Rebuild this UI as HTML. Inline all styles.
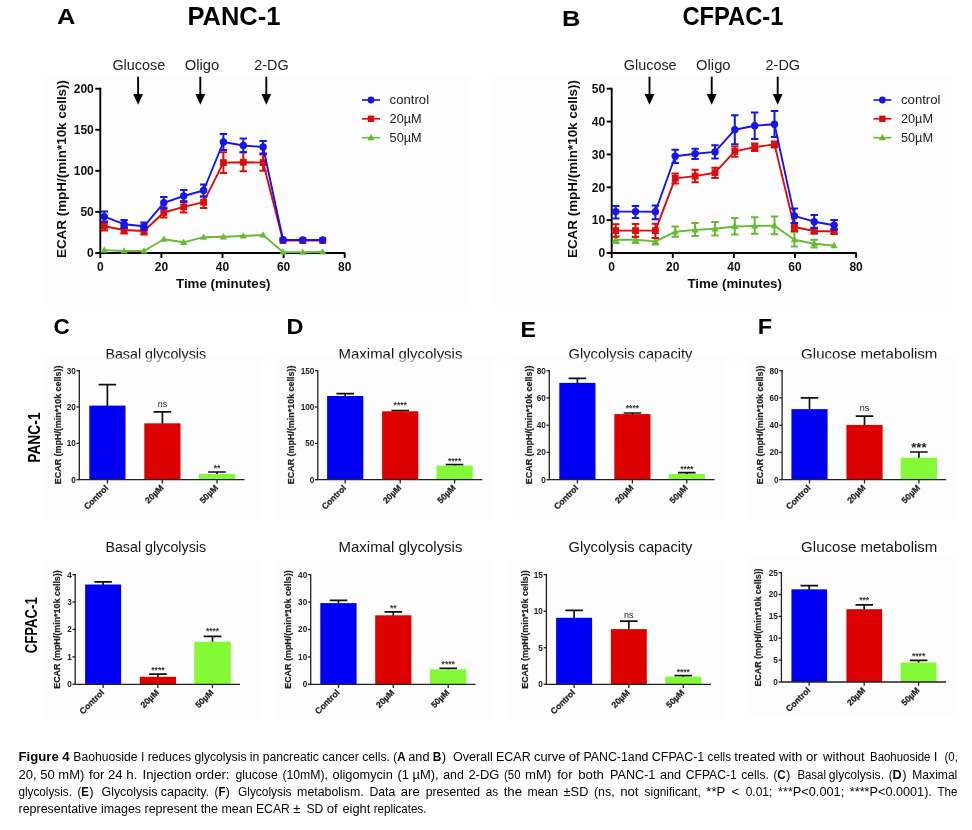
<!DOCTYPE html>
<html><head><meta charset="utf-8"><title>Figure 4</title>
<style>html,body{margin:0;padding:0;background:#fff}svg{display:block}text{font-family:"Liberation Sans",sans-serif}</style>
</head><body>
<svg width="972" height="830" viewBox="0 0 972 830">
<rect width="972" height="830" fill="#fff"/>
<defs><filter id="b0" x="-5%" y="-5%" width="110%" height="110%"><feGaussianBlur stdDeviation="0.3"/></filter><filter id="b1" x="-5%" y="-5%" width="110%" height="110%"><feGaussianBlur stdDeviation="0.35"/></filter><filter id="b2" x="-5%" y="-5%" width="110%" height="110%"><feGaussianBlur stdDeviation="0.5"/></filter></defs>
<g filter="url(#b0)">
<text x="56.9" y="24.2" font-size="22" text-anchor="start" fill="#000" font-weight="bold" textLength="18.4" lengthAdjust="spacingAndGlyphs" >A</text>
<text x="561.9" y="25.6" font-size="22" text-anchor="start" fill="#000" font-weight="bold" textLength="18.4" lengthAdjust="spacingAndGlyphs" >B</text>
<text x="187.4" y="24.8" font-size="25" text-anchor="start" fill="#000" font-weight="bold" textLength="93.0" lengthAdjust="spacingAndGlyphs" >PANC-1</text>
<text x="682.4" y="24.8" font-size="25" text-anchor="start" fill="#000" font-weight="bold" textLength="101.0" lengthAdjust="spacingAndGlyphs" >CFPAC-1</text>
<text x="53.6" y="334.4" font-size="22" text-anchor="start" fill="#000" font-weight="bold" textLength="16.3" lengthAdjust="spacingAndGlyphs" >C</text>
<text x="286.4" y="334.3" font-size="22" text-anchor="start" fill="#000" font-weight="bold" textLength="17.0" lengthAdjust="spacingAndGlyphs" >D</text>
<text x="520.6" y="336.7" font-size="22" text-anchor="start" fill="#000" font-weight="bold" textLength="15.5" lengthAdjust="spacingAndGlyphs" >E</text>
<text x="757.7" y="334.3" font-size="22" text-anchor="start" fill="#000" font-weight="bold" textLength="14.4" lengthAdjust="spacingAndGlyphs" >F</text>
</g>
<g filter="url(#b1)">
<rect x="45" y="76" width="425" height="229" fill="#fdfdfd"/>
<text x="112.4" y="69.6" font-size="15" text-anchor="start" fill="#222" textLength="52.8" lengthAdjust="spacingAndGlyphs" >Glucose</text>
<path d="M138.1 76.7V96" stroke="#000" stroke-width="1.9" fill="none"/>
<path d="M133.2 94.0H143.0L138.1 104.8Z" fill="#000"/>
<text x="184.7" y="69.6" font-size="15" text-anchor="start" fill="#222" textLength="34.5" lengthAdjust="spacingAndGlyphs" >Oligo</text>
<path d="M200.3 76.7V96" stroke="#000" stroke-width="1.9" fill="none"/>
<path d="M195.4 94.0H205.2L200.3 104.8Z" fill="#000"/>
<text x="254.2" y="69.6" font-size="15" text-anchor="start" fill="#222" textLength="34.4" lengthAdjust="spacingAndGlyphs" >2-DG</text>
<path d="M266.3 76.7V96" stroke="#000" stroke-width="1.9" fill="none"/>
<path d="M261.4 94.0H271.2L266.3 104.8Z" fill="#000"/>
<path d="M100.3 87.8V253.0H345.2" stroke="#000" stroke-width="1.9" fill="none"/>
<path d="M95.3 253.0H100.3" stroke="#000" stroke-width="1.9"/>
<text x="93.8" y="257.3" font-size="12" text-anchor="end" fill="#111" font-weight="bold" >0</text>
<path d="M95.3 211.9H100.3" stroke="#000" stroke-width="1.9"/>
<text x="93.8" y="216.2" font-size="12" text-anchor="end" fill="#111" font-weight="bold" >50</text>
<path d="M95.3 170.8H100.3" stroke="#000" stroke-width="1.9"/>
<text x="93.8" y="175.2" font-size="12" text-anchor="end" fill="#111" font-weight="bold" >100</text>
<path d="M95.3 129.8H100.3" stroke="#000" stroke-width="1.9"/>
<text x="93.8" y="134.1" font-size="12" text-anchor="end" fill="#111" font-weight="bold" >150</text>
<path d="M95.3 88.7H100.3" stroke="#000" stroke-width="1.9"/>
<text x="93.8" y="93.0" font-size="12" text-anchor="end" fill="#111" font-weight="bold" >200</text>
<path d="M100.3 253.0V258.0" stroke="#000" stroke-width="1.9"/>
<text x="100.3" y="271.2" font-size="12" text-anchor="middle" fill="#111" font-weight="bold" >0</text>
<path d="M161.4 253.0V258.0" stroke="#000" stroke-width="1.9"/>
<text x="161.4" y="271.2" font-size="12" text-anchor="middle" fill="#111" font-weight="bold" >20</text>
<path d="M222.5 253.0V258.0" stroke="#000" stroke-width="1.9"/>
<text x="222.5" y="271.2" font-size="12" text-anchor="middle" fill="#111" font-weight="bold" >40</text>
<path d="M283.6 253.0V258.0" stroke="#000" stroke-width="1.9"/>
<text x="283.6" y="271.2" font-size="12" text-anchor="middle" fill="#111" font-weight="bold" >60</text>
<path d="M344.7 253.0V258.0" stroke="#000" stroke-width="1.9"/>
<text x="344.7" y="271.2" font-size="12" text-anchor="middle" fill="#111" font-weight="bold" >80</text>
<polyline points="104.3,250.1 124.1,251.0 144.0,251.0 163.8,239.2 183.7,242.3 203.6,237.2 223.4,236.8 243.3,236.0 263.1,235.0 283.0,252.0 302.8,252.2 322.7,252.0" fill="none" stroke="#66bb33" stroke-width="1.9" stroke-linejoin="round"/>
<path d="M104.3 246.3L107.9 252.7H100.7Z" fill="#66bb33"/>
<path d="M124.1 247.2L127.7 253.6H120.5Z" fill="#66bb33"/>
<path d="M144.0 247.2L147.6 253.6H140.4Z" fill="#66bb33"/>
<path d="M163.8 235.4L167.4 241.8H160.2Z" fill="#66bb33"/>
<path d="M183.7 238.5L187.3 244.9H180.1Z" fill="#66bb33"/>
<path d="M203.6 233.4L207.2 239.8H200.0Z" fill="#66bb33"/>
<path d="M223.4 233.0L227.0 239.4H219.8Z" fill="#66bb33"/>
<path d="M243.3 232.2L246.9 238.6H239.7Z" fill="#66bb33"/>
<path d="M263.1 231.2L266.7 237.6H259.5Z" fill="#66bb33"/>
<path d="M283.0 248.2L286.6 254.6H279.4Z" fill="#66bb33"/>
<path d="M302.8 248.4L306.4 254.8H299.2Z" fill="#66bb33"/>
<path d="M322.7 248.2L326.3 254.6H319.1Z" fill="#66bb33"/>
<polyline points="104.3,226.3 124.1,230.0 144.0,231.0 163.8,212.5 183.7,206.9 203.6,202.2 223.4,162.6 243.3,162.2 263.1,162.6 283.0,240.6 302.8,240.6 322.7,240.6" fill="none" stroke="#dc0a0a" stroke-width="1.9" stroke-linejoin="round"/>
<path d="M104.3 222.0V230.5M100.6 222.0h7.4M100.6 230.5h7.4" stroke="#dc0a0a" stroke-width="2.0" fill="none"/>
<rect x="100.9" y="222.9" width="6.8" height="6.8" fill="#dc0a0a"/>
<path d="M124.1 226.5V233.5M120.4 226.5h7.4M120.4 233.5h7.4" stroke="#dc0a0a" stroke-width="2.0" fill="none"/>
<rect x="120.7" y="226.6" width="6.8" height="6.8" fill="#dc0a0a"/>
<path d="M144.0 227.5V234.5M140.3 227.5h7.4M140.3 234.5h7.4" stroke="#dc0a0a" stroke-width="2.0" fill="none"/>
<rect x="140.6" y="227.6" width="6.8" height="6.8" fill="#dc0a0a"/>
<path d="M163.8 207.5V217.5M160.1 207.5h7.4M160.1 217.5h7.4" stroke="#dc0a0a" stroke-width="2.0" fill="none"/>
<rect x="160.4" y="209.1" width="6.8" height="6.8" fill="#dc0a0a"/>
<path d="M183.7 201.0V212.5M180.0 201.0h7.4M180.0 212.5h7.4" stroke="#dc0a0a" stroke-width="2.0" fill="none"/>
<rect x="180.3" y="203.5" width="6.8" height="6.8" fill="#dc0a0a"/>
<path d="M203.6 196.5V208.0M199.9 196.5h7.4M199.9 208.0h7.4" stroke="#dc0a0a" stroke-width="2.0" fill="none"/>
<rect x="200.2" y="198.8" width="6.8" height="6.8" fill="#dc0a0a"/>
<path d="M223.4 152.3V173.0M219.7 152.3h7.4M219.7 173.0h7.4" stroke="#dc0a0a" stroke-width="2.0" fill="none"/>
<rect x="220.0" y="159.2" width="6.8" height="6.8" fill="#dc0a0a"/>
<path d="M243.3 152.3V171.3M239.6 152.3h7.4M239.6 171.3h7.4" stroke="#dc0a0a" stroke-width="2.0" fill="none"/>
<rect x="239.9" y="158.8" width="6.8" height="6.8" fill="#dc0a0a"/>
<path d="M263.1 154.6V170.7M259.4 154.6h7.4M259.4 170.7h7.4" stroke="#dc0a0a" stroke-width="2.0" fill="none"/>
<rect x="259.7" y="159.2" width="6.8" height="6.8" fill="#dc0a0a"/>
<rect x="279.6" y="237.2" width="6.8" height="6.8" fill="#dc0a0a"/>
<rect x="299.4" y="237.2" width="6.8" height="6.8" fill="#dc0a0a"/>
<rect x="319.3" y="237.2" width="6.8" height="6.8" fill="#dc0a0a"/>
<polyline points="104.3,216.6 124.1,224.2 144.0,226.3 163.8,202.8 183.7,196.0 203.6,190.5 223.4,142.0 243.3,145.5 263.1,147.0 283.0,239.8 302.8,240.0 322.7,240.0" fill="none" stroke="#1414e6" stroke-width="1.9" stroke-linejoin="round"/>
<path d="M104.3 211.5V221.5M100.6 211.5h7.4M100.6 221.5h7.4" stroke="#1414e6" stroke-width="2.0" fill="none"/>
<circle cx="104.3" cy="216.6" r="3.7" fill="#1414e6"/>
<path d="M124.1 220.0V228.0M120.4 220.0h7.4M120.4 228.0h7.4" stroke="#1414e6" stroke-width="2.0" fill="none"/>
<circle cx="124.1" cy="224.2" r="3.7" fill="#1414e6"/>
<path d="M144.0 222.5V230.0M140.3 222.5h7.4M140.3 230.0h7.4" stroke="#1414e6" stroke-width="2.0" fill="none"/>
<circle cx="144.0" cy="226.3" r="3.7" fill="#1414e6"/>
<path d="M163.8 197.0V208.5M160.1 197.0h7.4M160.1 208.5h7.4" stroke="#1414e6" stroke-width="2.0" fill="none"/>
<circle cx="163.8" cy="202.8" r="3.7" fill="#1414e6"/>
<path d="M183.7 190.0V202.0M180.0 190.0h7.4M180.0 202.0h7.4" stroke="#1414e6" stroke-width="2.0" fill="none"/>
<circle cx="183.7" cy="196.0" r="3.7" fill="#1414e6"/>
<path d="M203.6 184.5V196.5M199.9 184.5h7.4M199.9 196.5h7.4" stroke="#1414e6" stroke-width="2.0" fill="none"/>
<circle cx="203.6" cy="190.5" r="3.7" fill="#1414e6"/>
<path d="M223.4 134.0V150.0M219.7 134.0h7.4M219.7 150.0h7.4" stroke="#1414e6" stroke-width="2.0" fill="none"/>
<circle cx="223.4" cy="142.0" r="3.7" fill="#1414e6"/>
<path d="M243.3 138.6V152.3M239.6 138.6h7.4M239.6 152.3h7.4" stroke="#1414e6" stroke-width="2.0" fill="none"/>
<circle cx="243.3" cy="145.5" r="3.7" fill="#1414e6"/>
<path d="M263.1 141.0V153.5M259.4 141.0h7.4M259.4 153.5h7.4" stroke="#1414e6" stroke-width="2.0" fill="none"/>
<circle cx="263.1" cy="147.0" r="3.7" fill="#1414e6"/>
<circle cx="283.0" cy="239.8" r="3.7" fill="#1414e6"/>
<circle cx="302.8" cy="240.0" r="3.7" fill="#1414e6"/>
<circle cx="322.7" cy="240.0" r="3.7" fill="#1414e6"/>
<text x="176.0" y="288.3" font-size="13.3" text-anchor="start" fill="#111" font-weight="bold" textLength="94.5" lengthAdjust="spacingAndGlyphs" >Time (minutes)</text>
<text x="65.6" y="258.0" font-size="13.3" text-anchor="start" fill="#111" font-weight="bold" textLength="178.0" lengthAdjust="spacingAndGlyphs" transform="rotate(-90 65.6 258.0)" >ECAR (mpH/(min*10k cells))</text>
<path d="M362.0 100.0h18" stroke="#1414e6" stroke-width="1.6"/>
<circle cx="371.0" cy="100.0" r="3.4" fill="#1414e6"/>
<text x="389.6" y="104.4" font-size="13" text-anchor="start" fill="#222" textLength="39.5" lengthAdjust="spacingAndGlyphs" >control</text>
<path d="M362.0 118.8h18" stroke="#dc0a0a" stroke-width="1.6"/>
<rect x="367.8" y="115.6" width="6.4" height="6.4" fill="#dc0a0a"/>
<text x="389.6" y="123.2" font-size="13" text-anchor="start" fill="#222" textLength="32.0" lengthAdjust="spacingAndGlyphs" >20µM</text>
<path d="M362.0 137.7h18" stroke="#66bb33" stroke-width="1.6"/>
<path d="M371.0 133.9L374.6 140.3H367.4Z" fill="#66bb33"/>
<text x="389.6" y="142.1" font-size="13" text-anchor="start" fill="#222" textLength="32.0" lengthAdjust="spacingAndGlyphs" >50µM</text>
<rect x="492" y="76" width="459" height="229" fill="#fdfdfd"/>
<text x="623.8" y="69.6" font-size="15" text-anchor="start" fill="#222" textLength="52.8" lengthAdjust="spacingAndGlyphs" >Glucose</text>
<path d="M649.5 76.7V96" stroke="#000" stroke-width="1.9" fill="none"/>
<path d="M644.6 94.0H654.4L649.5 104.8Z" fill="#000"/>
<text x="696.1" y="69.6" font-size="15" text-anchor="start" fill="#222" textLength="34.5" lengthAdjust="spacingAndGlyphs" >Oligo</text>
<path d="M711.7 76.7V96" stroke="#000" stroke-width="1.9" fill="none"/>
<path d="M706.8 94.0H716.6L711.7 104.8Z" fill="#000"/>
<text x="765.6" y="69.6" font-size="15" text-anchor="start" fill="#222" textLength="34.4" lengthAdjust="spacingAndGlyphs" >2-DG</text>
<path d="M777.7 76.7V96" stroke="#000" stroke-width="1.9" fill="none"/>
<path d="M772.8 94.0H782.6L777.7 104.8Z" fill="#000"/>
<path d="M611.7 87.8V253.0H856.6" stroke="#000" stroke-width="1.9" fill="none"/>
<path d="M606.7 253.0H611.7" stroke="#000" stroke-width="1.9"/>
<text x="605.2" y="257.3" font-size="12" text-anchor="end" fill="#111" font-weight="bold" >0</text>
<path d="M606.7 220.1H611.7" stroke="#000" stroke-width="1.9"/>
<text x="605.2" y="224.4" font-size="12" text-anchor="end" fill="#111" font-weight="bold" >10</text>
<path d="M606.7 187.3H611.7" stroke="#000" stroke-width="1.9"/>
<text x="605.2" y="191.6" font-size="12" text-anchor="end" fill="#111" font-weight="bold" >20</text>
<path d="M606.7 154.4H611.7" stroke="#000" stroke-width="1.9"/>
<text x="605.2" y="158.7" font-size="12" text-anchor="end" fill="#111" font-weight="bold" >30</text>
<path d="M606.7 121.6H611.7" stroke="#000" stroke-width="1.9"/>
<text x="605.2" y="125.9" font-size="12" text-anchor="end" fill="#111" font-weight="bold" >40</text>
<path d="M606.7 88.7H611.7" stroke="#000" stroke-width="1.9"/>
<text x="605.2" y="93.0" font-size="12" text-anchor="end" fill="#111" font-weight="bold" >50</text>
<path d="M611.7 253.0V258.0" stroke="#000" stroke-width="1.9"/>
<text x="611.7" y="271.2" font-size="12" text-anchor="middle" fill="#111" font-weight="bold" >0</text>
<path d="M672.8 253.0V258.0" stroke="#000" stroke-width="1.9"/>
<text x="672.8" y="271.2" font-size="12" text-anchor="middle" fill="#111" font-weight="bold" >20</text>
<path d="M733.9 253.0V258.0" stroke="#000" stroke-width="1.9"/>
<text x="733.9" y="271.2" font-size="12" text-anchor="middle" fill="#111" font-weight="bold" >40</text>
<path d="M795.0 253.0V258.0" stroke="#000" stroke-width="1.9"/>
<text x="795.0" y="271.2" font-size="12" text-anchor="middle" fill="#111" font-weight="bold" >60</text>
<path d="M856.1 253.0V258.0" stroke="#000" stroke-width="1.9"/>
<text x="856.1" y="271.2" font-size="12" text-anchor="middle" fill="#111" font-weight="bold" >80</text>
<polyline points="615.7,239.8 635.5,239.8 655.4,241.4 675.2,231.8 695.1,229.9 715.0,228.8 734.8,226.5 754.7,226.0 774.5,225.7 794.4,239.7 814.2,243.7 834.1,245.6" fill="none" stroke="#66bb33" stroke-width="1.9" stroke-linejoin="round"/>
<path d="M615.7 236.5V243.0M612.0 236.5h7.4M612.0 243.0h7.4" stroke="#66bb33" stroke-width="2.0" fill="none"/>
<path d="M615.7 236.0L619.3 242.4H612.1Z" fill="#66bb33"/>
<path d="M635.5 236.5V243.0M631.8 236.5h7.4M631.8 243.0h7.4" stroke="#66bb33" stroke-width="2.0" fill="none"/>
<path d="M635.5 236.0L639.1 242.4H631.9Z" fill="#66bb33"/>
<path d="M655.4 238.0V244.5M651.7 238.0h7.4M651.7 244.5h7.4" stroke="#66bb33" stroke-width="2.0" fill="none"/>
<path d="M655.4 237.6L659.0 244.0H651.8Z" fill="#66bb33"/>
<path d="M675.2 226.5V236.8M671.5 226.5h7.4M671.5 236.8h7.4" stroke="#66bb33" stroke-width="2.0" fill="none"/>
<path d="M675.2 228.0L678.8 234.4H671.6Z" fill="#66bb33"/>
<path d="M695.1 223.0V236.0M691.4 223.0h7.4M691.4 236.0h7.4" stroke="#66bb33" stroke-width="2.0" fill="none"/>
<path d="M695.1 226.1L698.7 232.5H691.5Z" fill="#66bb33"/>
<path d="M715.0 222.0V235.6M711.3 222.0h7.4M711.3 235.6h7.4" stroke="#66bb33" stroke-width="2.0" fill="none"/>
<path d="M715.0 225.0L718.6 231.4H711.4Z" fill="#66bb33"/>
<path d="M734.8 218.0V234.5M731.1 218.0h7.4M731.1 234.5h7.4" stroke="#66bb33" stroke-width="2.0" fill="none"/>
<path d="M734.8 222.7L738.4 229.1H731.2Z" fill="#66bb33"/>
<path d="M754.7 217.3V233.8M751.0 217.3h7.4M751.0 233.8h7.4" stroke="#66bb33" stroke-width="2.0" fill="none"/>
<path d="M754.7 222.2L758.3 228.6H751.1Z" fill="#66bb33"/>
<path d="M774.5 216.4V234.2M770.8 216.4h7.4M770.8 234.2h7.4" stroke="#66bb33" stroke-width="2.0" fill="none"/>
<path d="M774.5 221.9L778.1 228.3H770.9Z" fill="#66bb33"/>
<path d="M794.4 232.3V246.4M790.7 232.3h7.4M790.7 246.4h7.4" stroke="#66bb33" stroke-width="2.0" fill="none"/>
<path d="M794.4 235.9L798.0 242.3H790.8Z" fill="#66bb33"/>
<path d="M814.2 239.7V247.4M810.5 239.7h7.4M810.5 247.4h7.4" stroke="#66bb33" stroke-width="2.0" fill="none"/>
<path d="M814.2 239.9L817.8 246.3H810.6Z" fill="#66bb33"/>
<path d="M834.1 241.8L837.7 248.2H830.5Z" fill="#66bb33"/>
<polyline points="615.7,230.6 635.5,230.6 655.4,230.6 675.2,178.4 695.1,176.1 715.0,172.7 734.8,151.4 754.7,147.1 774.5,144.4 794.4,227.0 814.2,231.0 834.1,231.5" fill="none" stroke="#dc0a0a" stroke-width="1.9" stroke-linejoin="round"/>
<path d="M615.7 224.2V236.8M612.0 224.2h7.4M612.0 236.8h7.4" stroke="#dc0a0a" stroke-width="2.0" fill="none"/>
<rect x="612.3" y="227.2" width="6.8" height="6.8" fill="#dc0a0a"/>
<path d="M635.5 224.0V237.0M631.8 224.0h7.4M631.8 237.0h7.4" stroke="#dc0a0a" stroke-width="2.0" fill="none"/>
<rect x="632.1" y="227.2" width="6.8" height="6.8" fill="#dc0a0a"/>
<path d="M655.4 223.7V237.9M651.7 223.7h7.4M651.7 237.9h7.4" stroke="#dc0a0a" stroke-width="2.0" fill="none"/>
<rect x="652.0" y="227.2" width="6.8" height="6.8" fill="#dc0a0a"/>
<path d="M675.2 173.4V183.5M671.5 173.4h7.4M671.5 183.5h7.4" stroke="#dc0a0a" stroke-width="2.0" fill="none"/>
<rect x="671.8" y="175.0" width="6.8" height="6.8" fill="#dc0a0a"/>
<path d="M695.1 169.7V182.3M691.4 169.7h7.4M691.4 182.3h7.4" stroke="#dc0a0a" stroke-width="2.0" fill="none"/>
<rect x="691.7" y="172.7" width="6.8" height="6.8" fill="#dc0a0a"/>
<path d="M715.0 167.7V178.0M711.3 167.7h7.4M711.3 178.0h7.4" stroke="#dc0a0a" stroke-width="2.0" fill="none"/>
<rect x="711.6" y="169.3" width="6.8" height="6.8" fill="#dc0a0a"/>
<path d="M734.8 146.4V156.7M731.1 146.4h7.4M731.1 156.7h7.4" stroke="#dc0a0a" stroke-width="2.0" fill="none"/>
<rect x="731.4" y="148.0" width="6.8" height="6.8" fill="#dc0a0a"/>
<path d="M754.7 143.6V151.0M751.0 143.6h7.4M751.0 151.0h7.4" stroke="#dc0a0a" stroke-width="2.0" fill="none"/>
<rect x="751.3" y="143.7" width="6.8" height="6.8" fill="#dc0a0a"/>
<path d="M774.5 141.5V147.5M770.8 141.5h7.4M770.8 147.5h7.4" stroke="#dc0a0a" stroke-width="2.0" fill="none"/>
<rect x="771.1" y="141.0" width="6.8" height="6.8" fill="#dc0a0a"/>
<path d="M794.4 223.0V231.0M790.7 223.0h7.4M790.7 231.0h7.4" stroke="#dc0a0a" stroke-width="2.0" fill="none"/>
<rect x="791.0" y="223.6" width="6.8" height="6.8" fill="#dc0a0a"/>
<path d="M814.2 228.5V233.5M810.5 228.5h7.4M810.5 233.5h7.4" stroke="#dc0a0a" stroke-width="2.0" fill="none"/>
<rect x="810.8" y="227.6" width="6.8" height="6.8" fill="#dc0a0a"/>
<path d="M834.1 229.0V234.0M830.4 229.0h7.4M830.4 234.0h7.4" stroke="#dc0a0a" stroke-width="2.0" fill="none"/>
<rect x="830.7" y="228.1" width="6.8" height="6.8" fill="#dc0a0a"/>
<polyline points="615.7,211.6 635.5,211.6 655.4,211.8 675.2,156.2 695.1,153.7 715.0,151.9 734.8,129.7 754.7,125.7 774.5,124.2 794.4,215.9 814.2,221.7 834.1,225.2" fill="none" stroke="#1414e6" stroke-width="1.9" stroke-linejoin="round"/>
<path d="M615.7 205.9V218.5M612.0 205.9h7.4M612.0 218.5h7.4" stroke="#1414e6" stroke-width="2.0" fill="none"/>
<circle cx="615.7" cy="211.6" r="3.7" fill="#1414e6"/>
<path d="M635.5 205.9V218.0M631.8 205.9h7.4M631.8 218.0h7.4" stroke="#1414e6" stroke-width="2.0" fill="none"/>
<circle cx="635.5" cy="211.6" r="3.7" fill="#1414e6"/>
<path d="M655.4 205.4V219.2M651.7 205.4h7.4M651.7 219.2h7.4" stroke="#1414e6" stroke-width="2.0" fill="none"/>
<circle cx="655.4" cy="211.8" r="3.7" fill="#1414e6"/>
<path d="M675.2 149.8V162.9M671.5 149.8h7.4M671.5 162.9h7.4" stroke="#1414e6" stroke-width="2.0" fill="none"/>
<circle cx="675.2" cy="156.2" r="3.7" fill="#1414e6"/>
<path d="M695.1 148.7V159.0M691.4 148.7h7.4M691.4 159.0h7.4" stroke="#1414e6" stroke-width="2.0" fill="none"/>
<circle cx="695.1" cy="153.7" r="3.7" fill="#1414e6"/>
<path d="M715.0 145.2V158.5M711.3 145.2h7.4M711.3 158.5h7.4" stroke="#1414e6" stroke-width="2.0" fill="none"/>
<circle cx="715.0" cy="151.9" r="3.7" fill="#1414e6"/>
<path d="M734.8 115.3V144.3M731.1 115.3h7.4M731.1 144.3h7.4" stroke="#1414e6" stroke-width="2.0" fill="none"/>
<circle cx="734.8" cy="129.7" r="3.7" fill="#1414e6"/>
<path d="M754.7 112.5V138.9M751.0 112.5h7.4M751.0 138.9h7.4" stroke="#1414e6" stroke-width="2.0" fill="none"/>
<circle cx="754.7" cy="125.7" r="3.7" fill="#1414e6"/>
<path d="M774.5 111.0V137.0M770.8 111.0h7.4M770.8 137.0h7.4" stroke="#1414e6" stroke-width="2.0" fill="none"/>
<circle cx="774.5" cy="124.2" r="3.7" fill="#1414e6"/>
<path d="M794.4 208.5V223.0M790.7 208.5h7.4M790.7 223.0h7.4" stroke="#1414e6" stroke-width="2.0" fill="none"/>
<circle cx="794.4" cy="215.9" r="3.7" fill="#1414e6"/>
<path d="M814.2 215.0V227.8M810.5 215.0h7.4M810.5 227.8h7.4" stroke="#1414e6" stroke-width="2.0" fill="none"/>
<circle cx="814.2" cy="221.7" r="3.7" fill="#1414e6"/>
<path d="M834.1 220.0V229.7M830.4 220.0h7.4M830.4 229.7h7.4" stroke="#1414e6" stroke-width="2.0" fill="none"/>
<circle cx="834.1" cy="225.2" r="3.7" fill="#1414e6"/>
<text x="687.4" y="288.3" font-size="13.3" text-anchor="start" fill="#111" font-weight="bold" textLength="94.5" lengthAdjust="spacingAndGlyphs" >Time (minutes)</text>
<text x="577.0" y="258.0" font-size="13.3" text-anchor="start" fill="#111" font-weight="bold" textLength="178.0" lengthAdjust="spacingAndGlyphs" transform="rotate(-90 577.0 258.0)" >ECAR (mpH/(min*10k cells))</text>
<path d="M873.4 100.0h18" stroke="#1414e6" stroke-width="1.6"/>
<circle cx="882.4" cy="100.0" r="3.4" fill="#1414e6"/>
<text x="901.0" y="104.4" font-size="13" text-anchor="start" fill="#222" textLength="39.5" lengthAdjust="spacingAndGlyphs" >control</text>
<path d="M873.4 118.8h18" stroke="#dc0a0a" stroke-width="1.6"/>
<rect x="879.2" y="115.6" width="6.4" height="6.4" fill="#dc0a0a"/>
<text x="901.0" y="123.2" font-size="13" text-anchor="start" fill="#222" textLength="32.0" lengthAdjust="spacingAndGlyphs" >20µM</text>
<path d="M873.4 137.7h18" stroke="#66bb33" stroke-width="1.6"/>
<path d="M882.4 133.9L886.0 140.3H878.8Z" fill="#66bb33"/>
<text x="901.0" y="142.1" font-size="13" text-anchor="start" fill="#222" textLength="32.0" lengthAdjust="spacingAndGlyphs" >50µM</text>
</g>
<g filter="url(#b0)">
<text x="39.6" y="462.8" font-size="15.6" text-anchor="start" fill="#000" font-weight="bold" textLength="50.4" lengthAdjust="spacingAndGlyphs" transform="rotate(-90 39.6 462.8)" >PANC-1</text>
<text x="37.2" y="653.2" font-size="15.6" text-anchor="start" fill="#000" font-weight="bold" textLength="56.0" lengthAdjust="spacingAndGlyphs" transform="rotate(-90 37.2 653.2)" >CFPAC-1</text>
</g>
<g filter="url(#b2)">
<rect x="46" y="358" width="214" height="162" fill="#fdfdfd"/>
<path d="M107.4 406.6V384.7M98.6 384.7h17.6" stroke="#111" stroke-width="1.7" fill="none"/>
<rect x="89.3" y="405.6" width="36.2" height="74.1" fill="#0606f4"/>
<path d="M107.4 479.7v3.8" stroke="#222" stroke-width="1.3"/>
<text x="109.0" y="488.5" font-size="8.6" text-anchor="end" fill="#222" font-weight="bold" textLength="30.5" lengthAdjust="spacingAndGlyphs" transform="rotate(-45 109.0 488.5)" stroke="#222" stroke-width="0.25">Control</text>
<path d="M162.4 424.3V411.8M153.6 411.8h17.6" stroke="#111" stroke-width="1.7" fill="none"/>
<rect x="144.3" y="423.3" width="36.2" height="56.4" fill="#dc0202"/>
<text x="162.4" y="407.2" font-size="9" text-anchor="middle" fill="#222" >ns</text>
<path d="M162.4 479.7v3.8" stroke="#222" stroke-width="1.3"/>
<text x="164.0" y="488.5" font-size="8.6" text-anchor="end" fill="#222" font-weight="bold" textLength="21.8" lengthAdjust="spacingAndGlyphs" transform="rotate(-45 164.0 488.5)" stroke="#222" stroke-width="0.25">20µM</text>
<path d="M217.0 475.0V472.0M208.2 472.0h17.6" stroke="#111" stroke-width="1.7" fill="none"/>
<rect x="198.9" y="474.0" width="36.2" height="5.7" fill="#84f936"/>
<text x="217.0" y="471.4" font-size="8.5" text-anchor="middle" fill="#333" font-weight="bold" >**</text>
<path d="M217.0 479.7v3.8" stroke="#222" stroke-width="1.3"/>
<text x="218.6" y="488.5" font-size="8.6" text-anchor="end" fill="#222" font-weight="bold" textLength="21.8" lengthAdjust="spacingAndGlyphs" transform="rotate(-45 218.6 488.5)" stroke="#222" stroke-width="0.25">50µM</text>
<path d="M79.3 370.1V479.7H244.6" stroke="#222" stroke-width="1.3" fill="none"/>
<path d="M76.5 479.7H79.3" stroke="#222" stroke-width="1.3"/>
<text x="75.8" y="482.6" font-size="8.2" text-anchor="end" fill="#222" font-weight="bold" >0</text>
<path d="M76.5 443.4H79.3" stroke="#222" stroke-width="1.3"/>
<text x="75.8" y="446.3" font-size="8.2" text-anchor="end" fill="#222" font-weight="bold" >10</text>
<path d="M76.5 407.0H79.3" stroke="#222" stroke-width="1.3"/>
<text x="75.8" y="409.9" font-size="8.2" text-anchor="end" fill="#222" font-weight="bold" >20</text>
<path d="M76.5 370.7H79.3" stroke="#222" stroke-width="1.3"/>
<text x="75.8" y="373.6" font-size="8.2" text-anchor="end" fill="#222" font-weight="bold" >30</text>
<text x="60.8" y="484.2" font-size="8.2" text-anchor="start" fill="#222" font-weight="bold" textLength="118.6" lengthAdjust="spacingAndGlyphs" transform="rotate(-90 60.8 484.2)" stroke="#222" stroke-width="0.2">ECAR (mpH/(min*10k cells))</text>
<rect x="278" y="358" width="214" height="162" fill="#fdfdfd"/>
<path d="M345.2 397.0V393.6M336.4 393.6h17.6" stroke="#111" stroke-width="1.7" fill="none"/>
<rect x="327.1" y="396.0" width="36.2" height="83.7" fill="#0606f4"/>
<path d="M345.2 479.7v3.8" stroke="#222" stroke-width="1.3"/>
<text x="346.8" y="488.5" font-size="8.6" text-anchor="end" fill="#222" font-weight="bold" textLength="30.5" lengthAdjust="spacingAndGlyphs" transform="rotate(-45 346.8 488.5)" stroke="#222" stroke-width="0.25">Control</text>
<path d="M400.2 412.3V410.6M391.4 410.6h17.6" stroke="#111" stroke-width="1.7" fill="none"/>
<rect x="382.1" y="411.3" width="36.2" height="68.4" fill="#dc0202"/>
<text x="400.2" y="407.9" font-size="8.5" text-anchor="middle" fill="#333" font-weight="bold" >****</text>
<path d="M400.2 479.7v3.8" stroke="#222" stroke-width="1.3"/>
<text x="401.8" y="488.5" font-size="8.6" text-anchor="end" fill="#222" font-weight="bold" textLength="21.8" lengthAdjust="spacingAndGlyphs" transform="rotate(-45 401.8 488.5)" stroke="#222" stroke-width="0.25">20µM</text>
<path d="M454.6 466.6V464.6M445.8 464.6h17.6" stroke="#111" stroke-width="1.7" fill="none"/>
<rect x="436.5" y="465.6" width="36.2" height="14.1" fill="#84f936"/>
<text x="454.6" y="464.4" font-size="8.5" text-anchor="middle" fill="#333" font-weight="bold" >****</text>
<path d="M454.6 479.7v3.8" stroke="#222" stroke-width="1.3"/>
<text x="456.2" y="488.5" font-size="8.6" text-anchor="end" fill="#222" font-weight="bold" textLength="21.8" lengthAdjust="spacingAndGlyphs" transform="rotate(-45 456.2 488.5)" stroke="#222" stroke-width="0.25">50µM</text>
<path d="M317.8 370.1V479.7H482.4" stroke="#222" stroke-width="1.3" fill="none"/>
<path d="M315.0 479.7H317.8" stroke="#222" stroke-width="1.3"/>
<text x="314.3" y="482.6" font-size="8.2" text-anchor="end" fill="#222" font-weight="bold" >0</text>
<path d="M315.0 443.4H317.8" stroke="#222" stroke-width="1.3"/>
<text x="314.3" y="446.3" font-size="8.2" text-anchor="end" fill="#222" font-weight="bold" >50</text>
<path d="M315.0 407.0H317.8" stroke="#222" stroke-width="1.3"/>
<text x="314.3" y="409.9" font-size="8.2" text-anchor="end" fill="#222" font-weight="bold" >100</text>
<path d="M315.0 370.7H317.8" stroke="#222" stroke-width="1.3"/>
<text x="314.3" y="373.6" font-size="8.2" text-anchor="end" fill="#222" font-weight="bold" >150</text>
<text x="294.0" y="484.2" font-size="8.2" text-anchor="start" fill="#222" font-weight="bold" textLength="118.6" lengthAdjust="spacingAndGlyphs" transform="rotate(-90 294.0 484.2)" stroke="#222" stroke-width="0.2">ECAR (mpH/(min*10k cells))</text>
<rect x="512" y="358" width="214" height="162" fill="#fdfdfd"/>
<path d="M577.4 383.9V378.4M568.6 378.4h17.6" stroke="#111" stroke-width="1.7" fill="none"/>
<rect x="559.3" y="382.9" width="36.2" height="96.8" fill="#0606f4"/>
<path d="M577.4 479.7v3.8" stroke="#222" stroke-width="1.3"/>
<text x="579.0" y="488.5" font-size="8.6" text-anchor="end" fill="#222" font-weight="bold" textLength="30.5" lengthAdjust="spacingAndGlyphs" transform="rotate(-45 579.0 488.5)" stroke="#222" stroke-width="0.25">Control</text>
<path d="M632.4 415.1V413.0M623.6 413.0h17.6" stroke="#111" stroke-width="1.7" fill="none"/>
<rect x="614.3" y="414.1" width="36.2" height="65.6" fill="#dc0202"/>
<text x="632.4" y="411.3" font-size="8.5" text-anchor="middle" fill="#333" font-weight="bold" >****</text>
<path d="M632.4 479.7v3.8" stroke="#222" stroke-width="1.3"/>
<text x="634.0" y="488.5" font-size="8.6" text-anchor="end" fill="#222" font-weight="bold" textLength="21.8" lengthAdjust="spacingAndGlyphs" transform="rotate(-45 634.0 488.5)" stroke="#222" stroke-width="0.25">20µM</text>
<path d="M686.8 475.0V472.6M678.0 472.6h17.6" stroke="#111" stroke-width="1.7" fill="none"/>
<rect x="668.7" y="474.0" width="36.2" height="5.7" fill="#84f936"/>
<text x="686.8" y="471.9" font-size="8.5" text-anchor="middle" fill="#333" font-weight="bold" >****</text>
<path d="M686.8 479.7v3.8" stroke="#222" stroke-width="1.3"/>
<text x="688.4" y="488.5" font-size="8.6" text-anchor="end" fill="#222" font-weight="bold" textLength="21.8" lengthAdjust="spacingAndGlyphs" transform="rotate(-45 688.4 488.5)" stroke="#222" stroke-width="0.25">50µM</text>
<path d="M549.3 370.1V479.7H714.6" stroke="#222" stroke-width="1.3" fill="none"/>
<path d="M546.5 479.7H549.3" stroke="#222" stroke-width="1.3"/>
<text x="545.8" y="482.6" font-size="8.2" text-anchor="end" fill="#222" font-weight="bold" >0</text>
<path d="M546.5 452.4H549.3" stroke="#222" stroke-width="1.3"/>
<text x="545.8" y="455.3" font-size="8.2" text-anchor="end" fill="#222" font-weight="bold" >20</text>
<path d="M546.5 425.2H549.3" stroke="#222" stroke-width="1.3"/>
<text x="545.8" y="428.1" font-size="8.2" text-anchor="end" fill="#222" font-weight="bold" >40</text>
<path d="M546.5 397.9H549.3" stroke="#222" stroke-width="1.3"/>
<text x="545.8" y="400.8" font-size="8.2" text-anchor="end" fill="#222" font-weight="bold" >60</text>
<path d="M546.5 370.7H549.3" stroke="#222" stroke-width="1.3"/>
<text x="545.8" y="373.6" font-size="8.2" text-anchor="end" fill="#222" font-weight="bold" >80</text>
<text x="531.6" y="484.2" font-size="8.2" text-anchor="start" fill="#222" font-weight="bold" textLength="118.6" lengthAdjust="spacingAndGlyphs" transform="rotate(-90 531.6 484.2)" stroke="#222" stroke-width="0.2">ECAR (mpH/(min*10k cells))</text>
<rect x="748" y="358" width="208" height="162" fill="#fdfdfd"/>
<path d="M809.5 410.1V397.8M800.7 397.8h17.6" stroke="#111" stroke-width="1.7" fill="none"/>
<rect x="791.4" y="409.1" width="36.2" height="70.6" fill="#0606f4"/>
<path d="M809.5 479.7v3.8" stroke="#222" stroke-width="1.3"/>
<text x="811.1" y="488.5" font-size="8.6" text-anchor="end" fill="#222" font-weight="bold" textLength="30.5" lengthAdjust="spacingAndGlyphs" transform="rotate(-45 811.1 488.5)" stroke="#222" stroke-width="0.25">Control</text>
<path d="M864.5 425.9V416.2M855.7 416.2h17.6" stroke="#111" stroke-width="1.7" fill="none"/>
<rect x="846.4" y="424.9" width="36.2" height="54.8" fill="#dc0202"/>
<text x="864.5" y="411.3" font-size="9" text-anchor="middle" fill="#222" >ns</text>
<path d="M864.5 479.7v3.8" stroke="#222" stroke-width="1.3"/>
<text x="866.1" y="488.5" font-size="8.6" text-anchor="end" fill="#222" font-weight="bold" textLength="21.8" lengthAdjust="spacingAndGlyphs" transform="rotate(-45 866.1 488.5)" stroke="#222" stroke-width="0.25">20µM</text>
<path d="M918.9 458.7V452.0M910.1 452.0h17.6" stroke="#111" stroke-width="1.7" fill="none"/>
<rect x="900.8" y="457.7" width="36.2" height="22.0" fill="#84f936"/>
<text x="918.9" y="451.5" font-size="13" text-anchor="middle" fill="#222" font-weight="bold" >***</text>
<path d="M918.9 479.7v3.8" stroke="#222" stroke-width="1.3"/>
<text x="920.5" y="488.5" font-size="8.6" text-anchor="end" fill="#222" font-weight="bold" textLength="21.8" lengthAdjust="spacingAndGlyphs" transform="rotate(-45 920.5 488.5)" stroke="#222" stroke-width="0.25">50µM</text>
<path d="M782.1 370.1V479.7H946.1" stroke="#222" stroke-width="1.3" fill="none"/>
<path d="M779.3 479.7H782.1" stroke="#222" stroke-width="1.3"/>
<text x="778.6" y="482.6" font-size="8.2" text-anchor="end" fill="#222" font-weight="bold" >0</text>
<path d="M779.3 452.4H782.1" stroke="#222" stroke-width="1.3"/>
<text x="778.6" y="455.3" font-size="8.2" text-anchor="end" fill="#222" font-weight="bold" >20</text>
<path d="M779.3 425.2H782.1" stroke="#222" stroke-width="1.3"/>
<text x="778.6" y="428.1" font-size="8.2" text-anchor="end" fill="#222" font-weight="bold" >40</text>
<path d="M779.3 397.9H782.1" stroke="#222" stroke-width="1.3"/>
<text x="778.6" y="400.8" font-size="8.2" text-anchor="end" fill="#222" font-weight="bold" >60</text>
<path d="M779.3 370.7H782.1" stroke="#222" stroke-width="1.3"/>
<text x="778.6" y="373.6" font-size="8.2" text-anchor="end" fill="#222" font-weight="bold" >80</text>
<text x="763.4" y="484.2" font-size="8.2" text-anchor="start" fill="#222" font-weight="bold" textLength="118.6" lengthAdjust="spacingAndGlyphs" transform="rotate(-90 763.4 484.2)" stroke="#222" stroke-width="0.2">ECAR (mpH/(min*10k cells))</text>
<rect x="46" y="560" width="214" height="160" fill="#fdfdfd"/>
<path d="M103.1 585.5V581.8M94.3 581.8h17.6" stroke="#111" stroke-width="1.7" fill="none"/>
<rect x="85.1" y="584.5" width="36.0" height="99.8" fill="#0606f4"/>
<path d="M103.1 684.3v3.8" stroke="#222" stroke-width="1.3"/>
<text x="104.7" y="693.1" font-size="8.6" text-anchor="end" fill="#222" font-weight="bold" textLength="30.5" lengthAdjust="spacingAndGlyphs" transform="rotate(-45 104.7 693.1)" stroke="#222" stroke-width="0.25">Control</text>
<path d="M157.9 677.8V674.2M149.1 674.2h17.6" stroke="#111" stroke-width="1.7" fill="none"/>
<rect x="139.8" y="676.8" width="36.2" height="7.5" fill="#dc0202"/>
<text x="157.9" y="672.8" font-size="8.5" text-anchor="middle" fill="#333" font-weight="bold" >****</text>
<path d="M157.9 684.3v3.8" stroke="#222" stroke-width="1.3"/>
<text x="159.5" y="693.1" font-size="8.6" text-anchor="end" fill="#222" font-weight="bold" textLength="21.8" lengthAdjust="spacingAndGlyphs" transform="rotate(-45 159.5 693.1)" stroke="#222" stroke-width="0.25">20µM</text>
<path d="M212.5 642.7V636.4M203.7 636.4h17.6" stroke="#111" stroke-width="1.7" fill="none"/>
<rect x="194.3" y="641.7" width="36.4" height="42.6" fill="#84f936"/>
<text x="212.5" y="634.1" font-size="8.5" text-anchor="middle" fill="#333" font-weight="bold" >****</text>
<path d="M212.5 684.3v3.8" stroke="#222" stroke-width="1.3"/>
<text x="214.1" y="693.1" font-size="8.6" text-anchor="end" fill="#222" font-weight="bold" textLength="21.8" lengthAdjust="spacingAndGlyphs" transform="rotate(-45 214.1 693.1)" stroke="#222" stroke-width="0.25">50µM</text>
<path d="M75.2 574.0V684.3H240.0" stroke="#222" stroke-width="1.3" fill="none"/>
<path d="M72.4 684.3H75.2" stroke="#222" stroke-width="1.3"/>
<text x="71.7" y="687.2" font-size="8.2" text-anchor="end" fill="#222" font-weight="bold" >0</text>
<path d="M72.4 656.9H75.2" stroke="#222" stroke-width="1.3"/>
<text x="71.7" y="659.8" font-size="8.2" text-anchor="end" fill="#222" font-weight="bold" >1</text>
<path d="M72.4 629.5H75.2" stroke="#222" stroke-width="1.3"/>
<text x="71.7" y="632.4" font-size="8.2" text-anchor="end" fill="#222" font-weight="bold" >2</text>
<path d="M72.4 602.0H75.2" stroke="#222" stroke-width="1.3"/>
<text x="71.7" y="604.9" font-size="8.2" text-anchor="end" fill="#222" font-weight="bold" >3</text>
<path d="M72.4 574.6H75.2" stroke="#222" stroke-width="1.3"/>
<text x="71.7" y="577.5" font-size="8.2" text-anchor="end" fill="#222" font-weight="bold" >4</text>
<text x="60.3" y="688.8" font-size="8.2" text-anchor="start" fill="#222" font-weight="bold" textLength="118.6" lengthAdjust="spacingAndGlyphs" transform="rotate(-90 60.3 688.8)" stroke="#222" stroke-width="0.2">ECAR (mpH/(min*10k cells))</text>
<rect x="276" y="560" width="214" height="160" fill="#fdfdfd"/>
<path d="M338.5 604.1V600.4M329.7 600.4h17.6" stroke="#111" stroke-width="1.7" fill="none"/>
<rect x="320.3" y="603.1" width="36.3" height="81.2" fill="#0606f4"/>
<path d="M338.5 684.3v3.8" stroke="#222" stroke-width="1.3"/>
<text x="340.1" y="693.1" font-size="8.6" text-anchor="end" fill="#222" font-weight="bold" textLength="30.5" lengthAdjust="spacingAndGlyphs" transform="rotate(-45 340.1 693.1)" stroke="#222" stroke-width="0.25">Control</text>
<path d="M393.3 616.3V611.9M384.5 611.9h17.6" stroke="#111" stroke-width="1.7" fill="none"/>
<rect x="375.2" y="615.3" width="36.2" height="69.0" fill="#dc0202"/>
<text x="393.3" y="611.4" font-size="8.5" text-anchor="middle" fill="#333" font-weight="bold" >**</text>
<path d="M393.3 684.3v3.8" stroke="#222" stroke-width="1.3"/>
<text x="394.9" y="693.1" font-size="8.6" text-anchor="end" fill="#222" font-weight="bold" textLength="21.8" lengthAdjust="spacingAndGlyphs" transform="rotate(-45 394.9 693.1)" stroke="#222" stroke-width="0.25">20µM</text>
<path d="M448.2 670.3V668.3M439.4 668.3h17.6" stroke="#111" stroke-width="1.7" fill="none"/>
<rect x="430.0" y="669.3" width="36.4" height="15.0" fill="#84f936"/>
<text x="448.2" y="666.9" font-size="8.5" text-anchor="middle" fill="#333" font-weight="bold" >****</text>
<path d="M448.2 684.3v3.8" stroke="#222" stroke-width="1.3"/>
<text x="449.8" y="693.1" font-size="8.6" text-anchor="end" fill="#222" font-weight="bold" textLength="21.8" lengthAdjust="spacingAndGlyphs" transform="rotate(-45 449.8 693.1)" stroke="#222" stroke-width="0.25">50µM</text>
<path d="M310.7 574.0V684.3H475.5" stroke="#222" stroke-width="1.3" fill="none"/>
<path d="M307.9 684.3H310.7" stroke="#222" stroke-width="1.3"/>
<text x="307.2" y="687.2" font-size="8.2" text-anchor="end" fill="#222" font-weight="bold" >0</text>
<path d="M307.9 656.9H310.7" stroke="#222" stroke-width="1.3"/>
<text x="307.2" y="659.8" font-size="8.2" text-anchor="end" fill="#222" font-weight="bold" >10</text>
<path d="M307.9 629.5H310.7" stroke="#222" stroke-width="1.3"/>
<text x="307.2" y="632.4" font-size="8.2" text-anchor="end" fill="#222" font-weight="bold" >20</text>
<path d="M307.9 602.0H310.7" stroke="#222" stroke-width="1.3"/>
<text x="307.2" y="604.9" font-size="8.2" text-anchor="end" fill="#222" font-weight="bold" >30</text>
<path d="M307.9 574.6H310.7" stroke="#222" stroke-width="1.3"/>
<text x="307.2" y="577.5" font-size="8.2" text-anchor="end" fill="#222" font-weight="bold" >40</text>
<text x="291.5" y="688.8" font-size="8.2" text-anchor="start" fill="#222" font-weight="bold" textLength="118.6" lengthAdjust="spacingAndGlyphs" transform="rotate(-90 291.5 688.8)" stroke="#222" stroke-width="0.2">ECAR (mpH/(min*10k cells))</text>
<rect x="510" y="560" width="214" height="160" fill="#fdfdfd"/>
<path d="M574.1 618.8V610.4M565.3 610.4h17.6" stroke="#111" stroke-width="1.7" fill="none"/>
<rect x="556.1" y="617.8" width="36.0" height="66.5" fill="#0606f4"/>
<path d="M574.1 684.3v3.8" stroke="#222" stroke-width="1.3"/>
<text x="575.7" y="693.1" font-size="8.6" text-anchor="end" fill="#222" font-weight="bold" textLength="30.5" lengthAdjust="spacingAndGlyphs" transform="rotate(-45 575.7 693.1)" stroke="#222" stroke-width="0.25">Control</text>
<path d="M628.8 630.1V621.1M620.0 621.1h17.6" stroke="#111" stroke-width="1.7" fill="none"/>
<rect x="610.9" y="629.1" width="35.9" height="55.2" fill="#dc0202"/>
<text x="628.8" y="617.7" font-size="9" text-anchor="middle" fill="#222" >ns</text>
<path d="M628.8 684.3v3.8" stroke="#222" stroke-width="1.3"/>
<text x="630.4" y="693.1" font-size="8.6" text-anchor="end" fill="#222" font-weight="bold" textLength="21.8" lengthAdjust="spacingAndGlyphs" transform="rotate(-45 630.4 693.1)" stroke="#222" stroke-width="0.25">20µM</text>
<path d="M683.3 677.8V675.6M674.5 675.6h17.6" stroke="#111" stroke-width="1.7" fill="none"/>
<rect x="665.2" y="676.8" width="36.2" height="7.5" fill="#84f936"/>
<text x="683.3" y="675.1" font-size="8.5" text-anchor="middle" fill="#333" font-weight="bold" >****</text>
<path d="M683.3 684.3v3.8" stroke="#222" stroke-width="1.3"/>
<text x="684.9" y="693.1" font-size="8.6" text-anchor="end" fill="#222" font-weight="bold" textLength="21.8" lengthAdjust="spacingAndGlyphs" transform="rotate(-45 684.9 693.1)" stroke="#222" stroke-width="0.25">50µM</text>
<path d="M546.4 574.0V684.3H711.0" stroke="#222" stroke-width="1.3" fill="none"/>
<path d="M543.6 684.3H546.4" stroke="#222" stroke-width="1.3"/>
<text x="542.9" y="687.2" font-size="8.2" text-anchor="end" fill="#222" font-weight="bold" >0</text>
<path d="M543.6 647.7H546.4" stroke="#222" stroke-width="1.3"/>
<text x="542.9" y="650.6" font-size="8.2" text-anchor="end" fill="#222" font-weight="bold" >5</text>
<path d="M543.6 611.2H546.4" stroke="#222" stroke-width="1.3"/>
<text x="542.9" y="614.1" font-size="8.2" text-anchor="end" fill="#222" font-weight="bold" >10</text>
<path d="M543.6 574.6H546.4" stroke="#222" stroke-width="1.3"/>
<text x="542.9" y="577.5" font-size="8.2" text-anchor="end" fill="#222" font-weight="bold" >15</text>
<text x="527.9" y="688.8" font-size="8.2" text-anchor="start" fill="#222" font-weight="bold" textLength="118.6" lengthAdjust="spacingAndGlyphs" transform="rotate(-90 527.9 688.8)" stroke="#222" stroke-width="0.2">ECAR (mpH/(min*10k cells))</text>
<rect x="748" y="556" width="208" height="160" fill="#fdfdfd"/>
<path d="M809.2 590.3V585.7M800.5 585.7h17.6" stroke="#111" stroke-width="1.7" fill="none"/>
<rect x="791.4" y="589.3" width="35.7" height="92.7" fill="#0606f4"/>
<path d="M809.2 682.0v3.8" stroke="#222" stroke-width="1.3"/>
<text x="810.9" y="690.8" font-size="8.6" text-anchor="end" fill="#222" font-weight="bold" textLength="30.5" lengthAdjust="spacingAndGlyphs" transform="rotate(-45 810.9 690.8)" stroke="#222" stroke-width="0.25">Control</text>
<path d="M864.2 610.2V604.9M855.5 604.9h17.6" stroke="#111" stroke-width="1.7" fill="none"/>
<rect x="846.4" y="609.2" width="35.7" height="72.8" fill="#dc0202"/>
<text x="864.2" y="603.4" font-size="8.5" text-anchor="middle" fill="#333" font-weight="bold" >***</text>
<path d="M864.2 682.0v3.8" stroke="#222" stroke-width="1.3"/>
<text x="865.9" y="690.8" font-size="8.6" text-anchor="end" fill="#222" font-weight="bold" textLength="21.8" lengthAdjust="spacingAndGlyphs" transform="rotate(-45 865.9 690.8)" stroke="#222" stroke-width="0.25">20µM</text>
<path d="M918.6 663.5V660.4M909.8 660.4h17.6" stroke="#111" stroke-width="1.7" fill="none"/>
<rect x="900.7" y="662.5" width="35.8" height="19.5" fill="#84f936"/>
<text x="918.6" y="659.0" font-size="8.5" text-anchor="middle" fill="#333" font-weight="bold" >****</text>
<path d="M918.6 682.0v3.8" stroke="#222" stroke-width="1.3"/>
<text x="920.2" y="690.8" font-size="8.6" text-anchor="end" fill="#222" font-weight="bold" textLength="21.8" lengthAdjust="spacingAndGlyphs" transform="rotate(-45 920.2 690.8)" stroke="#222" stroke-width="0.25">50µM</text>
<path d="M781.4 572.0V682.0H946.0" stroke="#222" stroke-width="1.3" fill="none"/>
<path d="M778.6 682.0H781.4" stroke="#222" stroke-width="1.3"/>
<text x="777.9" y="684.9" font-size="8.2" text-anchor="end" fill="#222" font-weight="bold" >0</text>
<path d="M778.6 660.1H781.4" stroke="#222" stroke-width="1.3"/>
<text x="777.9" y="663.0" font-size="8.2" text-anchor="end" fill="#222" font-weight="bold" >5</text>
<path d="M778.6 638.2H781.4" stroke="#222" stroke-width="1.3"/>
<text x="777.9" y="641.1" font-size="8.2" text-anchor="end" fill="#222" font-weight="bold" >10</text>
<path d="M778.6 616.4H781.4" stroke="#222" stroke-width="1.3"/>
<text x="777.9" y="619.3" font-size="8.2" text-anchor="end" fill="#222" font-weight="bold" >15</text>
<path d="M778.6 594.5H781.4" stroke="#222" stroke-width="1.3"/>
<text x="777.9" y="597.4" font-size="8.2" text-anchor="end" fill="#222" font-weight="bold" >20</text>
<path d="M778.6 572.6H781.4" stroke="#222" stroke-width="1.3"/>
<text x="777.9" y="575.5" font-size="8.2" text-anchor="end" fill="#222" font-weight="bold" >25</text>
<text x="761.5" y="686.6" font-size="8.2" text-anchor="start" fill="#222" font-weight="bold" textLength="118.2" lengthAdjust="spacingAndGlyphs" transform="rotate(-90 761.5 686.6)" stroke="#222" stroke-width="0.2">ECAR (mpH/(min*10k cells))</text>
</g>
<g filter="url(#b1)">
<text x="105.4" y="358.8" font-size="14.2" text-anchor="start" fill="#161616" textLength="100.7" lengthAdjust="spacingAndGlyphs" >Basal glycolysis</text>
<text x="105.4" y="551.7" font-size="14.2" text-anchor="start" fill="#161616" textLength="100.7" lengthAdjust="spacingAndGlyphs" >Basal glycolysis</text>
<text x="338.6" y="358.8" font-size="14.2" text-anchor="start" fill="#161616" textLength="123.8" lengthAdjust="spacingAndGlyphs" >Maximal glycolysis</text>
<text x="338.6" y="551.7" font-size="14.2" text-anchor="start" fill="#161616" textLength="123.8" lengthAdjust="spacingAndGlyphs" >Maximal glycolysis</text>
<text x="568.6" y="358.8" font-size="14.2" text-anchor="start" fill="#161616" textLength="123.8" lengthAdjust="spacingAndGlyphs" >Glycolysis capacity</text>
<text x="568.6" y="551.7" font-size="14.2" text-anchor="start" fill="#161616" textLength="123.8" lengthAdjust="spacingAndGlyphs" >Glycolysis capacity</text>
<text x="801.1" y="358.8" font-size="14.2" text-anchor="start" fill="#161616" textLength="136.3" lengthAdjust="spacingAndGlyphs" >Glucose metabolism</text>
<text x="801.1" y="551.7" font-size="14.2" text-anchor="start" fill="#161616" textLength="136.3" lengthAdjust="spacingAndGlyphs" >Glucose metabolism</text>
</g>
<rect x="46" y="357.6" width="910" height="6" fill="#fdfdfd" fill-opacity="0.55"/>
<g opacity="0.99">
<text x="18.5" y="761.1" font-size="12.3" fill="#000" font-weight="bold" textLength="51.2" lengthAdjust="spacingAndGlyphs">Figure 4</text>
<text x="73.3" y="761.1" font-size="12.3" fill="#000" textLength="173.2" lengthAdjust="spacingAndGlyphs">Baohuoside I reduces glycolysis</text>
<text x="249.8" y="761.1" font-size="12.3" fill="#000" textLength="140.2" lengthAdjust="spacingAndGlyphs">in pancreatic cancer cells.</text>
<text x="393.3" y="761.1" font-size="12.3" fill="#000" textLength="3.8" lengthAdjust="spacingAndGlyphs">(</text>
<text x="397.2" y="761.1" font-size="12.3" fill="#000" font-weight="bold" textLength="8.3" lengthAdjust="spacingAndGlyphs">A</text>
<text x="408.3" y="761.1" font-size="12.3" fill="#000" textLength="21.2" lengthAdjust="spacingAndGlyphs">and</text>
<text x="432.8" y="761.1" font-size="12.3" fill="#000" font-weight="bold" textLength="8.6" lengthAdjust="spacingAndGlyphs">B</text>
<text x="441.8" y="761.1" font-size="12.3" fill="#000" textLength="4.4" lengthAdjust="spacingAndGlyphs">)</text>
<text x="453.0" y="761.1" font-size="12.3" fill="#000" textLength="39.7" lengthAdjust="spacingAndGlyphs">Overall</text>
<text x="496.0" y="761.1" font-size="12.3" fill="#000" textLength="34.7" lengthAdjust="spacingAndGlyphs">ECAR</text>
<text x="534.0" y="761.1" font-size="12.3" fill="#000" textLength="31.4" lengthAdjust="spacingAndGlyphs">curve</text>
<text x="568.7" y="761.1" font-size="12.3" fill="#000" textLength="11.0" lengthAdjust="spacingAndGlyphs">of</text>
<text x="583.4" y="761.1" font-size="12.3" fill="#000" textLength="65.1" lengthAdjust="spacingAndGlyphs">PANC-1and</text>
<text x="651.8" y="761.1" font-size="12.3" fill="#000" textLength="52.5" lengthAdjust="spacingAndGlyphs">CFPAC-1</text>
<text x="707.6" y="761.1" font-size="12.3" fill="#000" textLength="23.4" lengthAdjust="spacingAndGlyphs">cells</text>
<text x="734.3" y="761.1" font-size="12.3" fill="#000" textLength="41.0" lengthAdjust="spacingAndGlyphs">treated</text>
<text x="779.0" y="761.1" font-size="12.3" fill="#000" textLength="23.4" lengthAdjust="spacingAndGlyphs">with</text>
<text x="806.0" y="761.1" font-size="12.3" fill="#000" textLength="11.7" lengthAdjust="spacingAndGlyphs">or</text>
<text x="823.0" y="761.1" font-size="12.3" fill="#000" textLength="41.7" lengthAdjust="spacingAndGlyphs">without</text>
<text x="870.0" y="761.1" font-size="12.3" fill="#000" textLength="60.4" lengthAdjust="spacingAndGlyphs">Baohuoside</text>
<text x="933.7" y="761.1" font-size="12.3" fill="#000" textLength="3.7" lengthAdjust="spacingAndGlyphs">I</text>
<text x="944.5" y="761.1" font-size="12.3" fill="#000" textLength="13.3" lengthAdjust="spacingAndGlyphs">(0,</text>
<text x="18.5" y="778.6" font-size="12.3" fill="#000" textLength="65.9" lengthAdjust="spacingAndGlyphs">20, 50 mM)</text>
<text x="89.0" y="778.6" font-size="12.3" fill="#000" textLength="48.3" lengthAdjust="spacingAndGlyphs">for 24 h.</text>
<text x="142.5" y="778.6" font-size="12.3" fill="#000" textLength="87.0" lengthAdjust="spacingAndGlyphs">Injection order:</text>
<text x="235.5" y="778.6" font-size="12.3" fill="#000" textLength="42.3" lengthAdjust="spacingAndGlyphs">glucose</text>
<text x="282.4" y="778.6" font-size="12.3" fill="#000" textLength="45.6" lengthAdjust="spacingAndGlyphs">(10mM),</text>
<text x="332.6" y="778.6" font-size="12.3" fill="#000" textLength="60.2" lengthAdjust="spacingAndGlyphs">oligomycin</text>
<text x="397.4" y="778.6" font-size="12.3" fill="#000" textLength="41.2" lengthAdjust="spacingAndGlyphs">(1 µM),</text>
<text x="443.2" y="778.6" font-size="12.3" fill="#000" textLength="20.6" lengthAdjust="spacingAndGlyphs">and</text>
<text x="468.4" y="778.6" font-size="12.3" fill="#000" textLength="31.0" lengthAdjust="spacingAndGlyphs">2-DG</text>
<text x="504.0" y="778.6" font-size="12.3" fill="#000" textLength="16.5" lengthAdjust="spacingAndGlyphs">(50</text>
<text x="525.0" y="778.6" font-size="12.3" fill="#000" textLength="26.3" lengthAdjust="spacingAndGlyphs">mM)</text>
<text x="557.2" y="778.6" font-size="12.3" fill="#000" textLength="15.4" lengthAdjust="spacingAndGlyphs">for</text>
<text x="578.3" y="778.6" font-size="12.3" fill="#000" textLength="25.6" lengthAdjust="spacingAndGlyphs">both</text>
<text x="610.0" y="778.6" font-size="12.3" fill="#000" textLength="45.4" lengthAdjust="spacingAndGlyphs">PANC-1</text>
<text x="660.0" y="778.6" font-size="12.3" fill="#000" textLength="21.2" lengthAdjust="spacingAndGlyphs">and</text>
<text x="685.8" y="778.6" font-size="12.3" fill="#000" textLength="50.9" lengthAdjust="spacingAndGlyphs">CFPAC-1</text>
<text x="741.3" y="778.6" font-size="12.3" fill="#000" textLength="27.5" lengthAdjust="spacingAndGlyphs">cells.</text>
<text x="773.4" y="778.6" font-size="12.3" fill="#000" textLength="3.8" lengthAdjust="spacingAndGlyphs">(</text>
<text x="777.2" y="778.6" font-size="12.3" fill="#000" font-weight="bold" textLength="8.4" lengthAdjust="spacingAndGlyphs">C</text>
<text x="786.0" y="778.6" font-size="12.3" fill="#000" textLength="4.4" lengthAdjust="spacingAndGlyphs">)</text>
<text x="797.4" y="778.6" font-size="12.3" fill="#000" textLength="28.6" lengthAdjust="spacingAndGlyphs">Basal</text>
<text x="828.7" y="778.6" font-size="12.3" fill="#000" textLength="55.4" lengthAdjust="spacingAndGlyphs">glycolysis.</text>
<text x="888.7" y="778.6" font-size="12.3" fill="#000" textLength="3.8" lengthAdjust="spacingAndGlyphs">(</text>
<text x="892.6" y="778.6" font-size="12.3" fill="#000" font-weight="bold" textLength="9.2" lengthAdjust="spacingAndGlyphs">D</text>
<text x="902.2" y="778.6" font-size="12.3" fill="#000" textLength="4.4" lengthAdjust="spacingAndGlyphs">)</text>
<text x="912.3" y="778.6" font-size="12.3" fill="#000" textLength="45.0" lengthAdjust="spacingAndGlyphs">Maximal</text>
<text x="18.5" y="796.1" font-size="12.3" fill="#000" textLength="53.4" lengthAdjust="spacingAndGlyphs">glycolysis.</text>
<text x="77.5" y="796.1" font-size="12.3" fill="#000" textLength="3.8" lengthAdjust="spacingAndGlyphs">(</text>
<text x="81.3" y="796.1" font-size="12.3" fill="#000" font-weight="bold" textLength="7.6" lengthAdjust="spacingAndGlyphs">E</text>
<text x="89.2" y="796.1" font-size="12.3" fill="#000" textLength="4.4" lengthAdjust="spacingAndGlyphs">)</text>
<text x="101.5" y="796.1" font-size="12.3" fill="#000" textLength="107.4" lengthAdjust="spacingAndGlyphs">Glycolysis capacity.</text>
<text x="214.5" y="796.1" font-size="12.3" fill="#000" textLength="3.8" lengthAdjust="spacingAndGlyphs">(</text>
<text x="218.4" y="796.1" font-size="12.3" fill="#000" font-weight="bold" textLength="7.0" lengthAdjust="spacingAndGlyphs">F</text>
<text x="225.6" y="796.1" font-size="12.3" fill="#000" textLength="4.4" lengthAdjust="spacingAndGlyphs">)</text>
<text x="238.0" y="796.1" font-size="12.3" fill="#000" textLength="53.5" lengthAdjust="spacingAndGlyphs">Glycolysis</text>
<text x="297.1" y="796.1" font-size="12.3" fill="#000" textLength="66.7" lengthAdjust="spacingAndGlyphs">metabolism.</text>
<text x="369.4" y="796.1" font-size="12.3" fill="#000" textLength="25.8" lengthAdjust="spacingAndGlyphs">Data</text>
<text x="400.8" y="796.1" font-size="12.3" fill="#000" textLength="19.0" lengthAdjust="spacingAndGlyphs">are</text>
<text x="425.7" y="796.1" font-size="12.3" fill="#000" textLength="54.4" lengthAdjust="spacingAndGlyphs">presented</text>
<text x="485.7" y="796.1" font-size="12.3" fill="#000" textLength="12.4" lengthAdjust="spacingAndGlyphs">as</text>
<text x="503.7" y="796.1" font-size="12.3" fill="#000" textLength="18.3" lengthAdjust="spacingAndGlyphs">the</text>
<text x="527.6" y="796.1" font-size="12.3" fill="#000" textLength="30.4" lengthAdjust="spacingAndGlyphs">mean</text>
<text x="563.6" y="796.1" font-size="12.3" fill="#000" textLength="24.8" lengthAdjust="spacingAndGlyphs">±SD</text>
<text x="594.0" y="796.1" font-size="12.3" fill="#000" textLength="20.6" lengthAdjust="spacingAndGlyphs">(ns,</text>
<text x="620.2" y="796.1" font-size="12.3" fill="#000" textLength="18.3" lengthAdjust="spacingAndGlyphs">not</text>
<text x="644.6" y="796.1" font-size="12.3" fill="#000" textLength="56.1" lengthAdjust="spacingAndGlyphs">significant,</text>
<text x="706.3" y="796.1" font-size="12.3" fill="#000" textLength="19.0" lengthAdjust="spacingAndGlyphs">**P</text>
<text x="731.5" y="796.1" font-size="12.3" fill="#000" textLength="7.7" lengthAdjust="spacingAndGlyphs">&lt;</text>
<text x="745.7" y="796.1" font-size="12.3" fill="#000" textLength="26.7" lengthAdjust="spacingAndGlyphs">0.01;</text>
<text x="778.0" y="796.1" font-size="12.3" fill="#000" textLength="66.2" lengthAdjust="spacingAndGlyphs">***P&lt;0.001;</text>
<text x="849.8" y="796.1" font-size="12.3" fill="#000" textLength="82.1" lengthAdjust="spacingAndGlyphs">****P&lt;0.0001).</text>
<text x="937.5" y="796.1" font-size="12.3" fill="#000" textLength="19.8" lengthAdjust="spacingAndGlyphs">The</text>
<text x="18.5" y="813.3" font-size="12.3" fill="#000" textLength="234.1" lengthAdjust="spacingAndGlyphs">representative images represent the mean</text>
<text x="256.0" y="813.3" font-size="12.3" fill="#000" textLength="33.8" lengthAdjust="spacingAndGlyphs">ECAR</text>
<text x="293.2" y="813.3" font-size="12.3" fill="#000" textLength="7.2" lengthAdjust="spacingAndGlyphs">±</text>
<text x="306.4" y="813.3" font-size="12.3" fill="#000" textLength="16.9" lengthAdjust="spacingAndGlyphs">SD</text>
<text x="326.7" y="813.3" font-size="12.3" fill="#000" textLength="11.0" lengthAdjust="spacingAndGlyphs">of</text>
<text x="342.4" y="813.3" font-size="12.3" fill="#000" textLength="27.9" lengthAdjust="spacingAndGlyphs">eight</text>
<text x="373.7" y="813.3" font-size="12.3" fill="#000" textLength="52.8" lengthAdjust="spacingAndGlyphs">replicates.</text>
</g>
</svg></body></html>
